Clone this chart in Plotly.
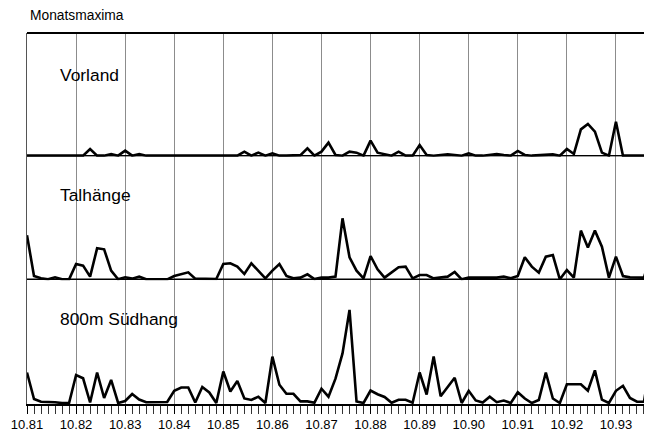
import plotly.graph_objects as go
from plotly.subplots import make_subplots

# ---- data (arbitrary units) ----
point_index = list(range(90))
year_positions = [0, 7, 14, 21, 28, 35, 42, 49, 56, 63, 70, 77, 84]
year_labels = ["10.81", "10.82", "10.83", "10.84", "10.85", "10.86", "10.87",
               "10.88", "10.89", "10.90", "10.91", "10.92", "10.93"]

vorland = [0, 0, 0, 0, 0, 0, 0, 0, 0, 6.7,
           0, 0, 1.7, 0, 5, 0, 1.7, 0, 0, 0,
           0, 0, 0, 0, 0, 0, 0, 0, 0.5, 0,
           0, 4, 0, 3, 0, 2.3, 0, 0, 0.3, 0.5,
           7.3, 0, 4, 13, 0.7, 0, 4, 3, 0, 15,
           3, 1.7, 0, 4, 0, 0, 10.7, 0.7, 0, 0.7,
           1.3, 0.7, 0, 2.3, 0, 0, 0.5, 1.7, 0.7, 0,
           4.7, 0.7, 0, 0.5, 1.3, 1.3, 0, 6.7, 1.7, 26.3,
           31.7, 24, 3, 0, 34, 0, 0, 0, 0, 0]

talhaenge = [44, 3.3, 1, 0, 2, 0, 0, 15.3, 13.7, 2.7,
             31, 30, 8.7, 0, 2, 0.7, 2.7, 0, 0, 0,
             0, 3.3, 5.3, 7, 0.7, 0.7, 0.7, 0.3, 15.3, 16,
             12.7, 5.3, 16, 8.7, 1, 8.7, 15.3, 3.3, 1, 1.7,
             5, 0.3, 1.7, 1.7, 2.7, 61, 22, 8.7, 1, 23.3,
             10, 1.7, 6.7, 12, 12.7, 1, 4.3, 4.3, 1, 2,
             2.7, 7.3, 0, 1.7, 1.7, 1, 1, 1.7, 2.7, 1,
             3.3, 22, 12.7, 6.7, 22.7, 24.3, 0, 9.3, 1.7, 48.7,
             31.7, 48.7, 32.7, 1.7, 22.7, 3.3, 2, 1.7, 1.7, 26]

suedhang = [30.5, 4, 1.3, 1.3, 0.7, 0, 0, 28, 24.7, 0.5,
            30.5, 5, 23, 0, 2, 9, 3.5, 0.8, 1, 1,
            1, 12.2, 15.5, 15.5, 0.5, 16, 10.5, 0, 31.5, 11.5,
            22, 4.5, 3, 6.3, 0, 46.3, 18.3, 9.2, 9.2, 1.6,
            1.6, 0.3, 14.3, 6.3, 24.3, 49.5, 93, 1.6, 0, 12.5,
            8.8, 6, 0.2, 3.2, 3.2, 0.3, 30.5, 8.5, 46.5, 6.8,
            16.2, 25.2, 0, 12.2, 2.5, 0.5, 6.3, 0.8, 2.5, 0,
            10.8, 4.5, 0, 3, 30.5, 4.5, 0, 18.8, 18.8, 18.8,
            12.2, 32.6, 3.3, 0, 12.2, 17.2, 5, 1.3, 1.3, 45]

panel_names = ["Vorland", "Talhänge", "800m Südhang"]
chart_title = "Monatsmaxima"

FONT = "Liberation Sans, Arial, Helvetica, sans-serif"

fig = make_subplots(rows=3, cols=1, shared_xaxes=True, vertical_spacing=0)

for r, series in enumerate([vorland, talhaenge, suedhang], start=1):
    fig.add_trace(go.Scatter(x=point_index, y=series, mode="lines",
                             line=dict(color="black", width=2.6),
                             hoverinfo="skip", showlegend=False),
                  row=r, col=1)
    fig.update_xaxes(range=[0, 89], tickmode="array", tickvals=year_positions,
                     showgrid=True, gridcolor="#8c8c8c", gridwidth=1,
                     zeroline=False, row=r, col=1)
    fig.update_yaxes(range=[-1, 122.6], showgrid=False, zeroline=False,
                     showticklabels=False, ticks="", showline=True,
                     linecolor="#555555", linewidth=1, row=r, col=1)

fig.update_xaxes(ticktext=year_labels, ticks="outside", ticklen=8,
                 tickcolor="black", tickwidth=1,
                 minor=dict(tickmode="linear", tick0=0, dtick=1, ticks="outside",
                            ticklen=8, tickcolor="#333333", tickwidth=1,
                            showgrid=False),
                 tickfont=dict(family=FONT, size=13, color="black"),
                 showline=True, linecolor="black", linewidth=1.5,
                 row=3, col=1)

shapes = []
for yref in ["y", "y2"]:
    shapes.append(dict(type="line", xref="paper", x0=0, x1=1, yref=yref,
                       y0=0, y1=0, line=dict(color="black", width=1.5)))
shapes.append(dict(type="line", xref="paper", x0=0, x1=1, yref="paper",
                   y0=1, y1=1, line=dict(color="black", width=2)))

annotations = [dict(text=chart_title, xref="paper", yref="paper",
                    x=0.004, y=1.047, xanchor="left", yanchor="middle",
                    showarrow=False, borderpad=0,
                    font=dict(family=FONT, size=13.8, color="black"))]
for name, ypos in zip(panel_names, [0.887, 0.563, 0.229]):
    annotations.append(dict(text=name, xref="paper", yref="paper",
                            x=0.0497, y=ypos, xanchor="left", yanchor="middle",
                            showarrow=False,
                            font=dict(family=FONT, size=17.4, color="black")))

# page body has an 8px default margin, so the figure is drawn 8px smaller
fig.update_layout(width=644, height=425,
                  margin=dict(l=19, r=1, t=25, b=29),
                  paper_bgcolor="white", plot_bgcolor="white",
                  shapes=shapes, annotations=annotations,
                  font=dict(family=FONT, color="black"))

fig.write_html("out.html")
